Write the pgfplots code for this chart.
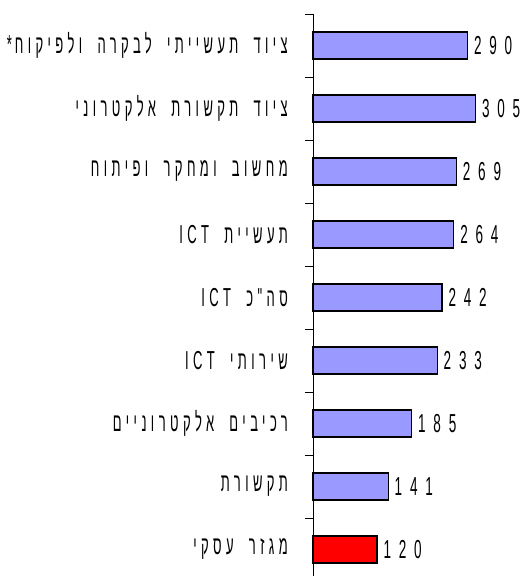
\documentclass[border=0pt]{standalone}
\usepackage{fontspec}
\usepackage{pgfplots}
\pgfplotsset{compat=1.18}
\TeXXeTstate=1
\setmainfont{Liberation Sans}
\newfontfamily\hebfont[Script=Hebrew,FakeStretch=0.5,LetterSpace=17,WordSpace=1.9]{Liberation Sans}
\newfontfamily\numfont[FakeStretch=0.52,LetterSpace=30]{Liberation Sans}
\definecolor{barblue}{HTML}{9999FF}
\definecolor{barred}{HTML}{FF0000}
\begin{document}
\begin{tikzpicture}
\useasboundingbox (0,0) rectangle (524pt,576pt);
\begin{axis}[
    at={(313pt,-5pt)}, anchor=south west,
    scale only axis,
    width=211pt, height=567pt,
    xbar, bar width=27pt, bar shift=0pt,
    xmin=0, xmax=396,
    ymin=-0.5, ymax=8.5, y dir=reverse,
    axis x line=none, axis y line*=left,
    axis line style={black, line width=0.8pt},
    ytick={0,...,8},
    major tick length=0pt,
    minor ytick={-0.5,0.5,...,8.5},
    minor tick length=8pt,
    tick align=outside,
    minor tick style={black, line width=0.8pt},
    yticklabels={
      {\beginR ציוד תעשייתי לבקרה ולפיקוח\kern3pt*\endR},
      {\beginR ציוד תקשורת אלקטרוני\endR},
      {\beginR מחשוב ומחקר ופיתוח\endR},
      {\beginR תעשיית \beginL ICT\endL{}\endR},
      {\beginR סה"כ \beginL ICT\endL{}\endR},
      {\beginR שירותי \beginL ICT\endL{}\endR},
      {\beginR רכיבים אלקטרוניים\endR},
      {\beginR תקשורת\endR},
      {\beginR מגזר עסקי\endR}},
    yticklabel style={font=\hebfont\fontsize{26}{29}\selectfont, anchor=east, inner sep=0pt, xshift=-25pt},
    nodes near coords,
    nodes near coords style={font=\numfont\fontsize{26}{29}\selectfont, anchor=west, inner sep=0pt, xshift=6pt,
      /pgf/number format/assume math mode=true},
    point meta=x,
    clip=false,
]
\addplot[fill=barblue, draw=black, line width=1.2pt]
  coordinates {(290,0) (305,1) (269,2) (264,3) (242,4) (233,5) (185,6) (141,7)};
\addplot[fill=barred, draw=black, line width=1.2pt]
  coordinates {(120,8)};
\end{axis}
\end{tikzpicture}
\end{document}
